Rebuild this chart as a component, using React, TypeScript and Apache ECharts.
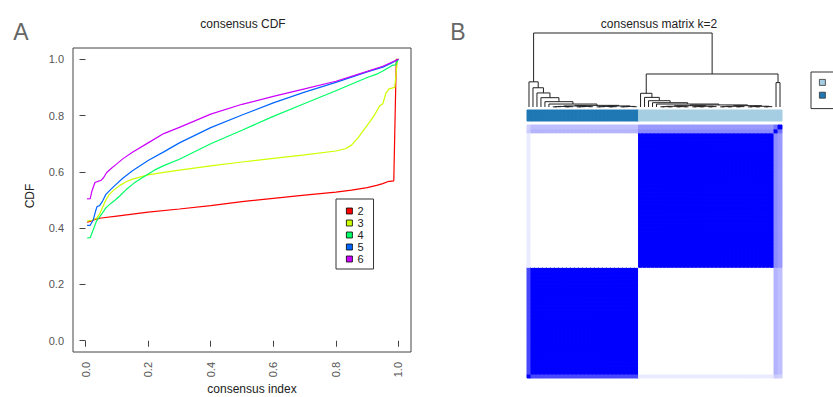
import React, { useEffect, useRef } from "react";
import * as echarts from "echarts";

const FONT = "'Liberation Sans', Arial, Helvetica, sans-serif";

// ---------- Panel A: consensus CDF ----------
const kLabels = ["2", "3", "4", "5", "6"];
const kColors = ["#FF0000", "#CCFF00", "#00FF66", "#0066FF", "#CC00FF"];
const axisTicks = [0, 0.2, 0.4, 0.6, 0.8, 1.0];

const cdfK2 = [
  [0.005, 0.421], [0.015, 0.424], [0.03, 0.431], [0.05, 0.436], [0.1, 0.443],
  [0.15, 0.45], [0.2, 0.457], [0.3, 0.468], [0.4, 0.48], [0.5, 0.494],
  [0.6, 0.506], [0.7, 0.517], [0.8, 0.528], [0.85, 0.535], [0.9, 0.544],
  [0.93, 0.552], [0.95, 0.558], [0.965, 0.565], [0.985, 0.568], [0.993, 1.0], [1.0, 1.0],
];
const cdfK3 = [
  [0.005, 0.425], [0.02, 0.428], [0.035, 0.435], [0.045, 0.45], [0.055, 0.475],
  [0.065, 0.5], [0.075, 0.518], [0.09, 0.535], [0.11, 0.552], [0.13, 0.565],
  [0.15, 0.574], [0.2, 0.589], [0.25, 0.598], [0.3, 0.606], [0.4, 0.621],
  [0.5, 0.635], [0.6, 0.648], [0.7, 0.66], [0.8, 0.674], [0.83, 0.682],
  [0.85, 0.695], [0.87, 0.72], [0.89, 0.75], [0.91, 0.78], [0.925, 0.805],
  [0.94, 0.835], [0.95, 0.842], [0.96, 0.88], [0.97, 0.895], [0.988, 0.9],
  [0.997, 1.0], [1.0, 1.0],
];
const cdfK4 = [
  [0.005, 0.365], [0.015, 0.366], [0.025, 0.395], [0.035, 0.425], [0.045, 0.44],
  [0.055, 0.455], [0.065, 0.472], [0.08, 0.487], [0.095, 0.5], [0.11, 0.515],
  [0.13, 0.537], [0.155, 0.56], [0.185, 0.582], [0.22, 0.606], [0.25, 0.622],
  [0.3, 0.645], [0.4, 0.7], [0.5, 0.748], [0.6, 0.797], [0.7, 0.843],
  [0.8, 0.888], [0.9, 0.935], [0.93, 0.947], [0.95, 0.958], [0.965, 0.968],
  [0.98, 0.978], [0.99, 0.98], [1.0, 1.0],
];
const cdfK5 = [
  [0.005, 0.41], [0.015, 0.41], [0.025, 0.43], [0.032, 0.46], [0.037, 0.477],
  [0.045, 0.48], [0.055, 0.497], [0.065, 0.52], [0.08, 0.537], [0.095, 0.553],
  [0.12, 0.578], [0.15, 0.604], [0.2, 0.64], [0.25, 0.671], [0.3, 0.703],
  [0.4, 0.757], [0.5, 0.802], [0.6, 0.845], [0.7, 0.883], [0.8, 0.918],
  [0.9, 0.955], [0.95, 0.972], [0.98, 0.988], [1.0, 1.0],
];
const cdfK6 = [
  [0.005, 0.504], [0.015, 0.505], [0.02, 0.53], [0.03, 0.562], [0.04, 0.566],
  [0.05, 0.57], [0.058, 0.58], [0.067, 0.597], [0.08, 0.61], [0.095, 0.624],
  [0.12, 0.647], [0.15, 0.67], [0.2, 0.703], [0.25, 0.736], [0.3, 0.758],
  [0.4, 0.805], [0.5, 0.84], [0.6, 0.868], [0.7, 0.895], [0.8, 0.922],
  [0.9, 0.957], [0.95, 0.975], [0.98, 0.99], [1.0, 1.0],
];
const cdfSeries = [cdfK2, cdfK3, cdfK4, cdfK5, cdfK6];

// ---------- Panel B: consensus matrix k=2 ----------
// sample groups in dendrogram order: one loose sample and the core of the left
// cluster, the core of the right cluster, two ambiguous samples at the right end
const groupSizes = [1, 27, 34, 1, 1];
const groupCluster = [2, 2, 1, 1, 1];
const groupConsensus = [
  [1.0, 0.72, 0.08, 0.2, 0.18],
  [0.72, 1.0, 0.0, 0.3, 0.25],
  [0.08, 0.0, 1.0, 0.45, 0.4],
  [0.2, 0.3, 0.45, 1.0, 0.55],
  [0.18, 0.25, 0.4, 0.55, 1.0],
];
const clusterNames = ["c1", "c2"];
const clusterColors = ["#A6CEE3", "#1F78B4"];

// dendrogram merge heights
const rootHeight = 1.0;
const rightClusterHeight = 0.446;
const edgeHeight = 0.33;
const leftChainHeights = [0.34, 0.26, 0.19, 0.126, 0.072, 0.04];
const leftCombHeights = [0.022, 0.014, 0.008, 0.004, 0.002];
const rightChainHeights = [0.185, 0.13, 0.085, 0.058, 0.04];
const rightCombHeights = [0.028, 0.018, 0.01, 0.005, 0.002];

// ---------- derived tables ----------
const sampleGroup: number[] = [];
groupSizes.forEach((n, g) => {
  for (let i = 0; i < n; i++) sampleGroup.push(g);
});
const nSamples = sampleGroup.length;
const sampleIds = sampleGroup.map((_, i) => "s" + (i + 1));

const matrixData: number[][] = [];
for (let i = 0; i < nSamples; i++) {
  for (let j = 0; j < nSamples; j++) {
    matrixData.push([i, j, groupConsensus[sampleGroup[i]][sampleGroup[j]]]);
  }
}
const barData = sampleGroup.map((g, i) => [i, 0, groupCluster[g]]);

type TreeNode = number | { h: number; l: TreeNode; r: TreeNode };
function comb(leaves: number[], levels: number[], depth = 0): TreeNode {
  if (leaves.length === 1) return leaves[0];
  const m = Math.ceil(leaves.length / 2);
  return {
    h: levels[Math.min(depth, levels.length - 1)],
    l: comb(leaves.slice(0, m), levels, depth + 1),
    r: comb(leaves.slice(m), levels, depth + 1),
  };
}
function chain(leaves: number[], heights: number[], rest: TreeNode): TreeNode {
  let node = rest;
  for (let i = heights.length - 1; i >= 0; i--) node = { h: heights[i], l: leaves[i], r: node };
  return node;
}
const leftLeaves = sampleGroup.map((g, i) => (groupCluster[g] === 2 ? i : -1)).filter((i) => i >= 0);
const rightCore = sampleGroup.map((g, i) => (g === 2 ? i : -1)).filter((i) => i >= 0);
const edgeLeaves = sampleGroup.map((g, i) => (g >= 3 ? i : -1)).filter((i) => i >= 0);

const leftTree = chain(
  leftLeaves.slice(0, leftChainHeights.length),
  leftChainHeights,
  comb(leftLeaves.slice(leftChainHeights.length), leftCombHeights)
);
const rightTree = chain(
  rightCore.slice(0, rightChainHeights.length),
  rightChainHeights,
  comb(rightCore.slice(rightChainHeights.length), rightCombHeights)
);
const edgeTree: TreeNode = { h: edgeHeight, l: edgeLeaves[0], r: edgeLeaves[1] };
const rootTree: TreeNode = {
  h: rootHeight,
  l: leftTree,
  r: { h: rightClusterHeight, l: rightTree, r: edgeTree },
};
const dendroSegments: number[][] = [];
function walk(node: TreeNode): { x: number; h: number } {
  if (typeof node === "number") return { x: node + 0.5, h: 0 };
  const a = walk(node.l);
  const b = walk(node.r);
  dendroSegments.push([a.x, a.h, b.x, b.h, node.h]);
  return { x: (a.x + b.x) / 2, h: node.h };
}
walk(rootTree);

const cellRender = (_p: any, api: any) => {
  const p = api.coord([api.value(0), api.value(1)]);
  const s = api.size([1, 1]);
  const col = api.visual("color");
  return {
    type: "rect",
    shape: { x: p[0] - s[0] / 2, y: p[1] - s[1] / 2, width: s[0], height: s[1] },
    style: { fill: col, stroke: col, lineWidth: 1 },
  };
};

export default function App() {
  const ref = useRef<HTMLDivElement>(null);

  useEffect(() => {
    if (!ref.current) return;
    const chart = echarts.init(ref.current, undefined, { renderer: "svg" });

    const lineSeries = kLabels.map((k, idx) => ({
      type: "line",
      name: k,
      data: cdfSeries[idx],
      xAxisIndex: 0,
      yAxisIndex: 0,
      showSymbol: false,
      symbol: "none",
      silent: true,
      color: kColors[idx],
      lineStyle: { width: 1.2, color: kColors[idx] },
      itemStyle: { color: kColors[idx] },
    }));

    const option: any = {
      animation: false,
      textStyle: { fontFamily: FONT },
      grid: [
        { left: 73, top: 48, width: 338, height: 304, show: true, borderColor: "#444", borderWidth: 1, backgroundColor: "transparent" },
        { left: 527, top: 33, width: 255, height: 74 },
        { left: 527, top: 110, width: 255, height: 11 },
        { left: 527, top: 125, width: 255, height: 253 },
      ],
      xAxis: [
        {
          gridIndex: 0,
          type: "value",
          min: -0.04,
          max: 1.04,
          axisLine: { show: false },
          splitLine: { show: false },
          axisTick: { show: true, length: 6, lineStyle: { color: "#444" }, customValues: axisTicks },
          axisLabel: {
            customValues: axisTicks,
            rotate: 90,
            margin: 10,
            fontSize: 11,
            color: "#555",
            fontFamily: FONT,
            formatter: (v: number) => v.toFixed(1),
          },
        },
        { gridIndex: 1, type: "value", min: 0, max: nSamples, show: false },
        { gridIndex: 2, type: "category", data: sampleIds, show: false },
        { gridIndex: 3, type: "category", data: sampleIds, show: false },
      ],
      yAxis: [
        {
          gridIndex: 0,
          type: "value",
          min: -0.04,
          max: 1.04,
          axisLine: { show: false },
          splitLine: { show: false },
          axisTick: { show: true, length: 6, lineStyle: { color: "#444" }, customValues: axisTicks },
          axisLabel: {
            customValues: axisTicks,
            margin: 9,
            fontSize: 11,
            color: "#555",
            fontFamily: FONT,
            formatter: (v: number) => v.toFixed(1),
          },
        },
        { gridIndex: 1, type: "value", min: 0, max: 1, show: false },
        { gridIndex: 2, type: "category", data: ["cluster"], show: false },
        { gridIndex: 3, type: "category", data: sampleIds, show: false },
      ],
      visualMap: [
        {
          type: "continuous",
          show: false,
          seriesIndex: 7,
          dimension: 2,
          min: 0,
          max: 1,
          inRange: { color: ["#FFFFFF", "#0000FF"] },
        },
        {
          type: "piecewise",
          show: false,
          seriesIndex: 6,
          dimension: 2,
          pieces: [
            { value: 1, color: clusterColors[0] },
            { value: 2, color: clusterColors[1] },
          ],
        },
      ],
      legend: [
        {
          data: kLabels,
          orient: "vertical",
          left: 336,
          top: 199,
          icon: "rect",
          itemWidth: 6,
          itemHeight: 6,
          itemGap: 0,
          padding: [6, 10, 4, 10],
          borderColor: "#333",
          borderWidth: 1,
          selectedMode: false,
          textStyle: { fontSize: 11, lineHeight: 12, color: "#222", fontFamily: FONT },
          itemStyle: { borderColor: "#000", borderWidth: 0.8 },
        },
        {
          // cluster legend, cut off by the right edge of the figure
          data: clusterNames,
          formatter: () => "",
          orient: "vertical",
          left: 811,
          top: 72,
          icon: "rect",
          itemWidth: 6,
          itemHeight: 6,
          itemGap: 6,
          padding: [7, 14, 10, 8],
          borderColor: "#333",
          borderWidth: 1,
          selectedMode: false,
          textStyle: { fontSize: 11, color: "#222", fontFamily: FONT },
          itemStyle: { borderColor: "#333", borderWidth: 0.8 },
        },
      ],
      series: [
        ...lineSeries,
        {
          type: "custom",
          name: "dendrogram",
          xAxisIndex: 1,
          yAxisIndex: 1,
          silent: true,
          data: dendroSegments,
          renderItem: (_p: any, api: any) => {
            const a = api.coord([api.value(0), api.value(1)]);
            const b = api.coord([api.value(0), api.value(4)]);
            const c = api.coord([api.value(2), api.value(4)]);
            const d = api.coord([api.value(2), api.value(3)]);
            return {
              type: "polyline",
              shape: { points: [a, b, c, d] },
              style: { stroke: "#222", lineWidth: 1, fill: null },
            };
          },
        },
        {
          type: "custom",
          name: "clusterBar",
          xAxisIndex: 2,
          yAxisIndex: 2,
          silent: true,
          data: barData,
          renderItem: cellRender,
        },
        {
          type: "custom",
          name: "consensusMatrix",
          xAxisIndex: 3,
          yAxisIndex: 3,
          silent: true,
          data: matrixData,
          renderItem: cellRender,
        },
        {
          type: "line",
          name: clusterNames[0],
          data: [],
          xAxisIndex: 0,
          yAxisIndex: 0,
          color: clusterColors[0],
          itemStyle: { color: clusterColors[0] },
        },
        {
          type: "line",
          name: clusterNames[1],
          data: [],
          xAxisIndex: 0,
          yAxisIndex: 0,
          color: clusterColors[1],
          itemStyle: { color: clusterColors[1] },
        },
      ],
      graphic: [
        { type: "text", x: 21, y: 32, style: { text: "A", fontSize: 23, fill: "#666", fontFamily: FONT, textAlign: "center", textVerticalAlign: "middle" } },
        { type: "text", x: 458, y: 32, style: { text: "B", fontSize: 23, fill: "#666", fontFamily: FONT, textAlign: "center", textVerticalAlign: "middle" } },
        { type: "text", x: 243, y: 24, style: { text: "consensus CDF", fontSize: 12, fill: "#222", fontFamily: FONT, textAlign: "center", textVerticalAlign: "middle" } },
        { type: "text", x: 659, y: 24, style: { text: "consensus matrix k=2", fontSize: 12, fill: "#222", fontFamily: FONT, textAlign: "center", textVerticalAlign: "middle" } },
        { type: "text", x: 252, y: 389, style: { text: "consensus index", fontSize: 12, fill: "#222", fontFamily: FONT, textAlign: "center", textVerticalAlign: "middle" } },
        { type: "text", x: 30, y: 196, rotation: Math.PI / 2, style: { text: "CDF", fontSize: 12, fill: "#222", fontFamily: FONT, textAlign: "center", textVerticalAlign: "middle" } },
      ],
    };

    chart.setOption(option);
    return () => chart.dispose();
  }, []);

  return (
    <div
      ref={ref}
      style={{ position: "absolute", left: 0, top: 0, width: 833, height: 397, background: "#fff" }}
    />
  );
}
